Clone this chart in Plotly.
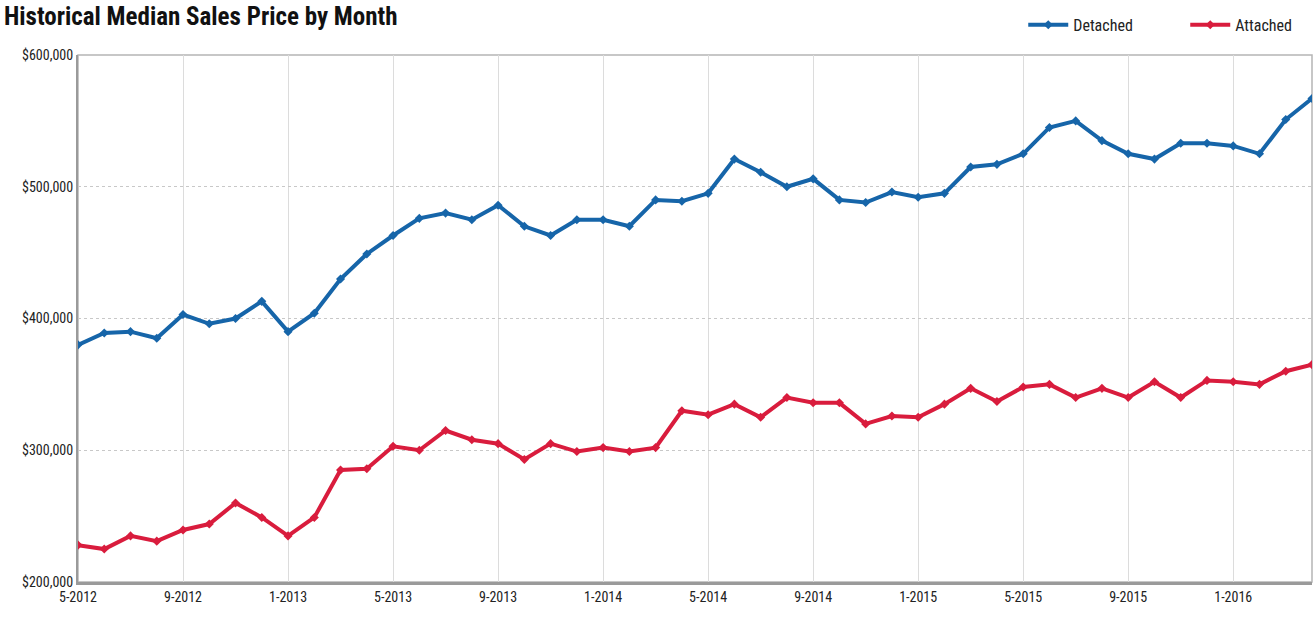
import plotly.graph_objects as go

months = [f"{m}-{y}" for y, ms in [(2012, range(5, 13)), (2013, range(1, 13)), (2014, range(1, 13)), (2015, range(1, 13)), (2016, range(1, 5))] for m in ms]

detached = [380000, 389000, 390000, 385000, 403000, 396000, 400000, 413000,
            390000, 404000, 430000, 449000, 463000, 476000, 480000, 475000,
            486000, 470000, 463000, 475000, 475000, 470000, 490000, 489000,
            495000, 521000, 511000, 500000, 506000, 490000, 488000, 496000,
            492000, 495000, 515000, 517000, 525000, 545000, 550000, 535000,
            525000, 521000, 533000, 533000, 531000, 525000, 551000, 567000]

attached = [228000, 225000, 235000, 231000, 239500, 244000, 260000, 249000,
            235000, 249000, 285000, 286000, 303000, 300000, 315000, 308000,
            305000, 293000, 305000, 299000, 302000, 299000, 302000, 330000,
            327000, 335000, 325000, 340000, 336000, 336000, 320000, 326000,
            325000, 335000, 347000, 337000, 348000, 350000, 340000, 347000,
            340000, 352000, 340000, 353000, 352000, 350000, 360000, 365000]

tick_labels = ["5-2012", "9-2012", "1-2013", "5-2013", "9-2013", "1-2014",
               "5-2014", "9-2014", "1-2015", "5-2015", "9-2015", "1-2016"]
y_ticks = [200000, 300000, 400000, 500000, 600000]

FONT = "Liberation Sans Narrow, Arial Narrow, Roboto Condensed, Liberation Sans, sans-serif"

fig = go.Figure()
fig.add_trace(go.Scatter(x=months, y=detached, name="Detached", mode="lines+markers",
                         line=dict(color="#1665a9", width=4),
                         marker=dict(symbol="diamond", size=7, color="#1665a9")))
fig.add_trace(go.Scatter(x=months, y=attached, name="Attached", mode="lines+markers",
                         line=dict(color="#d91c3d", width=4),
                         marker=dict(symbol="diamond", size=7, color="#d91c3d")))

fig.update_layout(
    width=1315, height=622,
    margin=dict(l=78, r=3, t=55, b=40, autoexpand=False),
    paper_bgcolor="white", plot_bgcolor="white",
    font=dict(family=FONT, color="#222", size=14),
    title=dict(text="<b>Historical Median Sales Price by Month</b>", x=0.003, xanchor="left",
               y=0.988, yanchor="top", font=dict(size=25, family=FONT, color="#111")),
    legend=dict(orientation="h", x=0.766, xanchor="left", y=1.025, yanchor="bottom",
                font=dict(size=16, family=FONT, color="#222"), itemwidth=40,
                entrywidth=107, traceorder="normal", bgcolor="rgba(0,0,0,0)"),
    showlegend=True,
)
fig.update_xaxes(type="category", categoryorder="array", categoryarray=months,
                 range=[0, 47], tickmode="array", tickvals=tick_labels, ticktext=tick_labels,
                 showgrid=True, gridcolor="#dcdcdc", gridwidth=1,
                 showline=True, linecolor="#9a9a9a", linewidth=3, mirror=False,
                 ticks="", tickfont=dict(size=14, family=FONT, color="#222"))
fig.update_yaxes(range=[200000, 600000], tickvals=y_ticks,
                 ticktext=[f"${v:,}" for v in y_ticks],
                 showgrid=True, gridcolor="#c8c8c8", griddash="dot", gridwidth=1,
                 showline=True, linecolor="#9a9a9a", linewidth=2, mirror=False,
                 ticks="", zeroline=False,
                 tickfont=dict(size=14, family=FONT, color="#222"))
fig.add_shape(type="rect", xref="paper", yref="paper", x0=0, y0=0, x1=1, y1=1,
              line=dict(color="#b5b5b5", width=1.5), layer="below")

fig.write_html("out.html")
